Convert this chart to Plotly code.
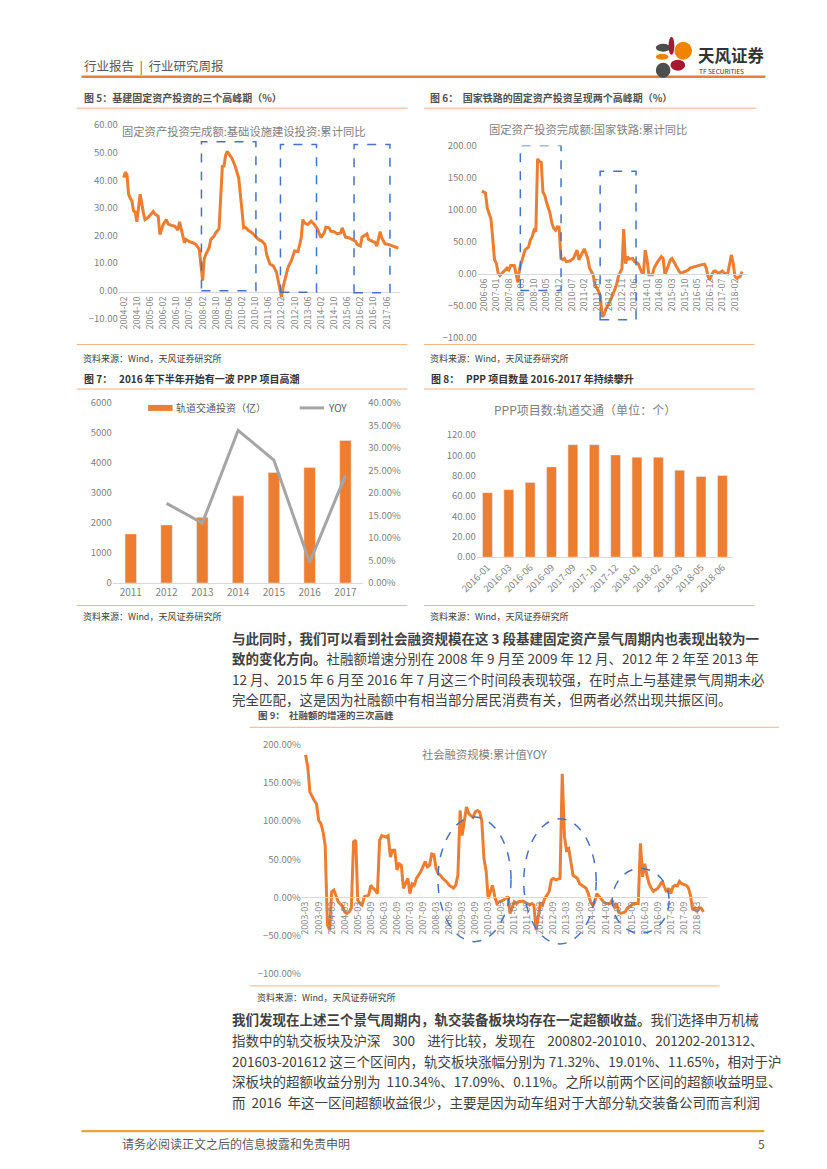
import plotly.graph_objects as go

W, H = 827, 1169
YS = 0.99315  # vertical scale observed in the captured page
FONT = "Noto Sans CJK SC"
ORANGE = "#ED7D31"
GRAYLINE = "#A5A5A5"
BLUE = "#4472C4"
TICK = "#7f7f7f"
THIN = "#F4B183"

def fx(px):
    return px / W

def fy(py):
    return 1 - (py / YS) / H

# ---------------- data ----------------
dates5 = ["2004-02", "2004-03", "2004-04", "2004-05", "2004-06", "2004-07", "2004-08", "2004-09", "2004-10", "2004-11", "2004-12",
          "2005-02", "2005-03", "2005-05", "2005-06", "2005-08", "2005-09", "2005-11", "2005-12",
          "2006-02", "2006-04", "2006-05", "2006-07", "2006-09", "2006-11", "2006-12",
          "2007-02", "2007-03", "2007-04", "2007-06", "2007-08", "2007-10", "2007-12",
          "2008-02", "2008-03", "2008-04", "2008-06", "2008-07", "2008-09", "2008-10", "2008-12",
          "2009-02", "2009-03", "2009-04", "2009-05", "2009-06", "2009-08", "2009-10", "2009-12",
          "2010-02", "2010-03", "2010-04", "2010-06", "2010-08", "2010-10", "2010-12",
          "2011-02", "2011-04", "2011-05", "2011-07", "2011-09", "2011-11", "2011-12",
          "2012-02", "2012-03", "2012-04", "2012-06", "2012-08", "2012-10", "2012-12",
          "2013-02", "2013-03", "2013-04", "2013-06", "2013-08", "2013-10", "2013-12",
          "2014-02", "2014-04", "2014-05", "2014-07", "2014-08", "2014-10", "2014-12",
          "2015-02", "2015-03", "2015-05", "2015-07", "2015-09", "2015-11", "2015-12",
          "2016-02", "2016-03", "2016-05", "2016-06", "2016-07", "2016-09", "2016-11", "2016-12",
          "2017-02", "2017-03", "2017-05", "2017-07", "2017-09", "2017-11", "2018-01"]
vals5 = [41, 43, 42, 35, 33.5, 32.5, 29, 28.5, 25, 30, 35,
         28, 25.8, 26.6, 27.3, 28.7, 27.8, 27, 20.4,
         24, 25.8, 24.2, 23.7, 23.4, 22, 25,
         19.8, 17.4, 18.6, 17.8, 17.4, 16.8, 15,
         3.7, 11.5, 13.2, 15.6, 18.6, 19.8, 21, 22.5,
         45.4, 44.8, 49, 50.5, 49.6, 47.8, 44.8, 40.7,
         28.7, 22.8, 23, 21.8, 21, 19.8, 18.6,
         18, 16.8, 13.2, 9.7, 9, 6.7, 3.7,
         -2.3, 1.3, 3.7, 8.5, 10.9, 14.4, 14.2,
         19.2, 25.8, 24.6, 24, 25.2, 24, 22.2,
         19.2, 21, 23, 22.8, 21.6, 21.4, 20.6,
         21, 22.8, 19.4, 19.2, 18.6, 18, 16.8,
         16.2, 19.4, 20.1, 20.6, 18.6, 18, 17.4, 16.2,
         21.4, 19.2, 17, 16.8, 16.2, 15.9, 15.4]

dates6 = ["2006-05", "2006-06", "2006-07", "2006-08", "2006-09", "2006-10", "2006-11", "2006-12",
          "2007-01", "2007-02", "2007-03", "2007-05", "2007-07", "2007-08", "2007-09", "2007-11", "2007-12",
          "2008-01", "2008-02", "2008-03", "2008-04", "2008-05", "2008-07", "2008-08", "2008-09", "2008-10", "2008-11", "2008-12",
          "2009-01", "2009-02", "2009-03", "2009-04", "2009-05", "2009-07", "2009-08", "2009-09", "2009-10", "2009-11", "2009-12",
          "2010-01", "2010-02", "2010-03", "2010-04", "2010-06", "2010-08", "2010-09", "2010-10", "2010-11",
          "2011-01", "2011-02", "2011-04", "2011-05", "2011-07", "2011-08", "2011-10", "2011-11", "2011-12",
          "2012-01", "2012-02", "2012-04", "2012-06", "2012-08", "2012-09", "2012-10", "2012-11", "2012-12",
          "2013-01", "2013-02", "2013-03", "2013-05", "2013-06", "2013-08", "2013-09", "2013-10", "2013-11", "2013-12",
          "2014-01", "2014-02", "2014-04", "2014-05", "2014-07", "2014-09", "2014-10", "2014-11", "2014-12",
          "2015-02", "2015-03", "2015-05", "2015-07", "2015-08", "2015-10", "2015-12",
          "2016-01", "2016-03", "2016-05", "2016-07", "2016-09", "2016-10", "2016-11", "2016-12",
          "2017-01", "2017-02", "2017-03", "2017-05", "2017-07", "2017-08", "2017-10", "2017-12",
          "2018-01", "2018-02", "2018-03", "2018-05", "2018-06"]
vals6 = [129, 128, 126, 102, 94, 86, 55, 22,
         16.5, 1, -2.6, 3.6, 8.8, 6.2, 13, 13, -1.5,
         -13, 8.8, 19, 29.5, 37, 42, 53, 58, 68, 66, 179.5,
         175, 174, 128, 122.6, 112, 94, 79, 71, 68, 73.4, 73,
         24, 22, 24, 19, 20, 24, 32, 37, 22,
         32, 39, 24, 8.8, -1.5, -17, -27, -35, -67,
         -64, -55, -45, -32, -17, -4, 3, 8, 70,
         16, 27, 23, 24, 19, 16.5, 8.8, 2.6, 2, 37,
         22, -1.5, -1.5, 9, 19, 27, 24, -1.5, 6,
         22, 24, 14, 3.6, 1, 3.6, 6,
         9, 11, 12, 14, 15, 9, -4, -9,
         -1.5, 3.6, 4.6, 1, 4.6, 1, 0, 29.5,
         16.5, -4, -6.7, -4, 3.6]

years7 = ["2011", "2012", "2013", "2014", "2015", "2016", "2017"]
invest7 = [1635, 1934, 2188, 2906, 3680, 3845, 4751]
yoy7 = [None, 0.177, 0.133, 0.339, 0.273, 0.046, 0.239]

months8 = ["2016-01", "2016-03", "2016-06", "2016-09", "2017-09", "2017-10", "2017-12",
           "2018-01", "2018-02", "2018-03", "2018-05", "2018-06"]
ppp8 = [63.2, 66.2, 73.3, 88.5, 110.3, 110.3, 100.2, 97.9, 97.9, 85.3, 79.1, 80.1]

dates9 = ["2003-03", "2003-04", "2003-05", "2003-06", "2003-07", "2003-08", "2003-09", "2003-10", "2003-11", "2003-12",
          "2004-01", "2004-02", "2004-03", "2004-04", "2004-05", "2004-06", "2004-08", "2004-09", "2004-10", "2004-11", "2004-12",
          "2005-01", "2005-02", "2005-03", "2005-04", "2005-05", "2005-06", "2005-08", "2005-09", "2005-10", "2005-11", "2005-12",
          "2006-01", "2006-02", "2006-04", "2006-05", "2006-06", "2006-07", "2006-08", "2006-09", "2006-10", "2006-11", "2006-12",
          "2007-02", "2007-03", "2007-04", "2007-05", "2007-06", "2007-08", "2007-09", "2007-10", "2007-11", "2007-12",
          "2008-01", "2008-02", "2008-03", "2008-04", "2008-05", "2008-06", "2008-08", "2008-09", "2008-11", "2008-12",
          "2009-01", "2009-02", "2009-03", "2009-04", "2009-05", "2009-06", "2009-08", "2009-09", "2009-10", "2009-11", "2009-12",
          "2010-01", "2010-02", "2010-03", "2010-04", "2010-05", "2010-06", "2010-07", "2010-08", "2010-10", "2010-11", "2010-12",
          "2011-01", "2011-03", "2011-04", "2011-05", "2011-07", "2011-08", "2011-10", "2011-11", "2011-12",
          "2012-01", "2012-02", "2012-03", "2012-04", "2012-05", "2012-06", "2012-07", "2012-08", "2012-09", "2012-10", "2012-12",
          "2013-01", "2013-02", "2013-03", "2013-04", "2013-05", "2013-06", "2013-08", "2013-09", "2013-11", "2013-12",
          "2014-01", "2014-02", "2014-03", "2014-04", "2014-05", "2014-06", "2014-08", "2014-09", "2014-11", "2014-12",
          "2015-01", "2015-02", "2015-03", "2015-04", "2015-06", "2015-07", "2015-09", "2015-10", "2015-12",
          "2016-01", "2016-02", "2016-03", "2016-04", "2016-05", "2016-06", "2016-07", "2016-09", "2016-10", "2016-11", "2016-12",
          "2017-01", "2017-02", "2017-03", "2017-04", "2017-05", "2017-06", "2017-07", "2017-08", "2017-09", "2017-10", "2017-11", "2017-12",
          "2018-01", "2018-02", "2018-03", "2018-04", "2018-05", "2018-06"]
vals9 = [187, 171, 138, 132, 127, 123, 101, 97, 86, 68,
         -36, -43, 7.4, 9.6, 3, -5.7, -12, -19, -21, -19, -14,
         73, 75, -3.5, -8, -10, 1, 3, 16, 12, 9.6, 5,
         75, 81, 79, 81, 53, 62, 62, 36, 44, 42, 12,
         25, 5, 18, 16, 25, 34, 40, 47, 40, 42,
         57, 56, 38, 31, 29, 25, 20, 16, 12, 16,
         29, 114, 81, 99, 118.5, 110, 105, 112, 114, 112, 101,
         51, 34, -1.3, 7.4, 16, 1, -8, -5.7, -3.5, -1.3, 1,
         -21, -5.7, -8, -5.7, -4.8, -6.5, -10, -8, -10,
         -43, -23, -8, -10, -1.3, 3, 7.4, 23, 25, 23, 25,
         162, 80, 62, 64, 47, 29, 25, 18, 14, 12,
         5, -5.7, -10, -5.7, 5, 1, -5.7, -8, -8, -3.5,
         -14, -8, -19, -21, -19, -14, -10, -8, -8,
         71, 27, 44, 29, 18, 12, 8, 12, 16, 21, 14,
         7.4, 12, 5, 14, 16, 15, 21, 18, 17, 16, 13, 3,
         -16.5, -14, -19, -13.5, -14, -19]

assert len(dates5) == len(vals5)
assert len(dates6) == len(vals6)
assert len(dates9) == len(vals9)

# ---------------- figure ----------------
fig = go.Figure()

fig.add_trace(go.Scatter(x=dates5, y=vals5, xaxis="x", yaxis="y", mode="lines",
                         line=dict(color=ORANGE, width=3), showlegend=False))
fig.add_trace(go.Scatter(x=dates6, y=vals6, xaxis="x2", yaxis="y2", mode="lines",
                         line=dict(color=ORANGE, width=3), showlegend=False))
fig.add_trace(go.Bar(x=years7, y=invest7, xaxis="x3", yaxis="y3", marker_color=ORANGE,
                     width=0.32, name="轨道交通投资（亿）", showlegend=False))
fig.add_trace(go.Scatter(x=years7, y=yoy7, xaxis="x3", yaxis="y4", mode="lines",
                         line=dict(color=GRAYLINE, width=3), name="YOY", showlegend=False))
fig.add_trace(go.Bar(x=months8, y=ppp8, xaxis="x5", yaxis="y5", marker_color=ORANGE,
                     width=0.46, showlegend=False))
fig.add_trace(go.Scatter(x=dates9, y=vals9, xaxis="x6", yaxis="y6", mode="lines",
                         line=dict(color=ORANGE, width=3), showlegend=False))

tickfont = dict(family=FONT, size=9, color=TICK)


def date_x(domain, rng, pos_py, tick0, dtick):
    return dict(domain=[fx(domain[0]), fx(domain[1])], type="date", range=rng,
                anchor="free", position=fy(pos_py), tick0=tick0, dtick=dtick,
                tickformat="%Y-%m", tickangle=-90, showline=True, linecolor="#d9d9d9",
                linewidth=1, showgrid=False, zeroline=False, ticks="", tickfont=tickfont)


def val_y(anchor, top, bottom, rng, dtick, fmt=".2f", suffix=""):
    return dict(domain=[fy(bottom), fy(top)], range=rng, dtick=dtick, tickformat=fmt,
                ticksuffix=suffix, anchor=anchor, showgrid=False, zeroline=False,
                showline=False, ticks="", tickfont=dict(family=FONT, size=9.5, color=TICK))


layout = dict(
    width=W, height=H, autosize=False,
    margin=dict(l=0, r=0, t=0, b=0, pad=0),
    paper_bgcolor="white", plot_bgcolor="white",
    font=dict(family=FONT, color="#404040"),
    showlegend=False,
    xaxis=date_x((103, 390), ["2003-11-01", "2018-01-25"], 285.3, "2004-02-01", "M8"),
    yaxis=val_y("x", 117.7, 312, [-10, 60], 10),
    xaxis2=date_x((470, 745), ["2006-02-20", "2018-08-20"], 267.3, "2006-06-01", "M7"),
    yaxis2=val_y("x2", 138.3, 331.7, [-100, 200], 50),
    xaxis3=dict(domain=[fx(97), fx(353)], anchor="y3", type="category", range=[-0.5, 6.5],
                showline=True, linecolor="#d9d9d9", ticks="", showgrid=False,
                tickfont=dict(family=FONT, size=10, color=TICK)),
    yaxis3=dict(domain=[fy(578), fy(397)], anchor="x3", range=[0, 6000], dtick=1000,
                showgrid=False, zeroline=False, ticks="",
                tickfont=dict(family=FONT, size=9.5, color=TICK)),
    yaxis4=dict(domain=[fy(578), fy(397)], overlaying="y3", side="right", anchor="free",
                position=fx(357), range=[0, 0.40], dtick=0.05, tickformat=".2%",
                showgrid=False, zeroline=False, ticks="",
                tickfont=dict(family=FONT, size=9.5, color=TICK)),
    xaxis5=dict(domain=[fx(469), fx(731)], anchor="y5", type="category", range=[-0.5, 11.5],
                showline=True, linecolor="#d9d9d9", ticks="", showgrid=False, tickangle=-45,
                tickfont=dict(family=FONT, size=9.5, color=TICK)),
    yaxis5=val_y("x5", 429, 552, [0, 120], 20),
    xaxis6=date_x((290, 705), ["2003-01-06", "2018-07-30"], 893.7, "2003-03-01", "M6"),
    yaxis6=val_y("x6", 740.7, 970.7, [-100, 200], 50, ".2f", "%"),
    bargap=0.5,
)
fig.update_layout(**layout)

shapes = []
ann = []


def hline(py, x0, x1, color=THIN, width=1):
    shapes.append(dict(type="line", xref="paper", yref="paper", x0=fx(x0), x1=fx(x1),
                       y0=fy(py), y1=fy(py), line=dict(color=color, width=width)))


def text(px, py, s, size=10, color="#404040", anchor="left", yanchor="middle"):
    ann.append(dict(xref="paper", yref="paper", x=fx(px), y=fy(py), text=s, showarrow=False,
                    xanchor=anchor, yanchor=yanchor, align=anchor, borderpad=0,
                    font=dict(family=FONT, size=size, color=color)))


# header
text(66, 58, "行业报告  |  行业研究周报", 12.5, "#595959")
hline(69, 65, 764, ORANGE, 2.5)
petals = [
    (665, 29, 671, 47, "#A6192E"),
    (652, 36, 667, 44, "#4D4D4D"),
    (671, 34, 689, 52, "#F08300"),
    (652, 46, 665, 52, "#F08300"),
    (667, 52, 682, 63, "#A6192E"),
    (652, 55, 667, 70, "#4D4D4D"),
]
for x0, y0, x1, y1, c in petals:
    shapes.append(dict(type="circle", xref="paper", yref="paper", x0=fx(x0), x1=fx(x1),
                       y0=fy(y1), y1=fy(y0), fillcolor=c, line=dict(width=0)))
text(694, 47, "<b>天风证券</b>", 16.5, "#333333")
text(695, 63, "TF SECURITIES", 6.5, "#333333")

# figure titles
text(66, 90, "<b>图 5：基建固定资产投资的三个高峰期（%）</b>", 10, "#505050")
hline(100.7, 60, 398)
text(420, 90, "<b>图 6：  国家铁路的固定资产投资呈现两个高峰期（%）</b>", 10, "#505050")
hline(100.7, 415, 755)
text(105, 124, "固定资产投资完成额:基础设施建设投资:累计同比", 11.3, TICK)
text(583, 122, "固定资产投资完成额:国家铁路:累计同比", 11.3, TICK, "center")
hline(338.3, 60, 398)
hline(338.3, 415, 753)
text(65, 352, "资料来源：Wind，天风证券研究所", 9, "#404040")
text(420, 352, "资料来源：Wind，天风证券研究所", 9, "#404040")

text(66, 372, "<b>图 7：   2016 年下半年开始有一波 PPP 项目高潮</b>", 10, "#333333")
text(421, 372, "<b>图 8：   PPP 项目数量 2016-2017 年持续攀升</b>", 10, "#333333")
hline(383, 60, 398)
hline(383, 415, 753)
shapes.append(dict(type="rect", xref="paper", yref="paper", x0=fx(133), x1=fx(158),
                   y0=fy(405), y1=fy(399), fillcolor=ORANGE, line=dict(width=0)))
text(161, 402, "轨道交通投资（亿）", 10, "#595959")
hline(402, 288, 313, GRAYLINE, 3)
text(316, 402, "YOY", 10, "#595959")
text(580, 404, "PPP项目数:轨道交通（单位：个）", 12, TICK, "center")
hline(600.7, 60, 398)
hline(600.7, 415, 753)
text(65, 612, "资料来源：Wind，天风证券研究所", 9, "#404040")
text(420, 612, "资料来源：Wind，天风证券研究所", 9, "#404040")

P1 = [
    "<b>与此同时，我们可以看到社会融资规模在这 3 段基建固定资产景气周期内也表现出较为一</b>",
    "<b>致的变化方向。</b>社融额增速分别在 2008 年 9 月至 2009 年 12 月、2012 年 2 年至 2013 年",
    "12 月、2015 年 6 月至 2016 年 7 月这三个时间段表现较强，在时点上与基建景气周期未必",
    "完全匹配，这是因为社融额中有相当部分居民消费有关，但两者必然出现共振区间。",
]
for i, s in enumerate(P1):
    text(218, 633 + i * 20.5, s, 13.5, "#404040")

text(244, 711, "<b>图 9：  社融额的增速的三次高峰</b>", 9.5, "#505050")
hline(723, 237, 778)
text(477, 750, "社会融资规模:累计值YOY", 11.3, TICK, "center")
hline(983, 237, 717)
text(243, 995, "资料来源：Wind，天风证券研究所", 9, "#404040")

P2 = [
    "<b>我们发现在上述三个景气周期内，轨交装备板块均存在一定超额收益。</b>我们选择申万机械",
    "指数中的轨交板块及沪深    300    进行比较，发现在    200802-201010、201202-201312、",
    "201603-201612 这三个区间内，轨交板块涨幅分别为 71.32%、19.01%、11.65%，相对于沪",
    "深板块的超额收益分别为  110.34%、17.09%、0.11%。之所以前两个区间的超额收益明显、",
    "而  2016  年这一区间超额收益很少，主要是因为动车组对于大部分轨交装备公司而言利润",
]
for i, s in enumerate(P2):
    text(218, 1016 + i * 21, s, 13.5, "#404040")

hline(1129, 65, 763, "#E8A33D", 2.2)
text(105, 1141, "请务必阅读正文之后的信息披露和免责申明", 12, "#595959")
text(765, 1141, "5", 12, "#595959", "right")

dash = dict(color=BLUE, width=1.5, dash="dash")
for x0, x1, y0, y1 in [("2008-01-10", "2010-10-15", 0, 54),
                       ("2012-01-12", "2013-11-10", -0.5, 53),
                       ("2015-10-06", "2017-08-01", -0.7, 53)]:
    shapes.append(dict(type="rect", xref="x", yref="y", x0=x0, x1=x1, y0=y0, y1=y1, line=dash))
for x0, x1, y0, y1 in [("2008-02-12", "2010-01-03", -26, 200),
                       ("2011-10-28", "2013-06-28", -71.4, 159.8)]:
    shapes.append(dict(type="rect", xref="x2", yref="y2", x0=x0, x1=x1, y0=y0, y1=y1, line=dash))
for x0, x1, y0, y1 in [("2008-03-28", "2011-01-15", -58, 105.4),
                       ("2011-07-12", "2014-04-21", -61, 103),
                       ("2014-12-01", "2017-02-06", -47, 38)]:
    shapes.append(dict(type="circle", xref="x6", yref="y6", x0=x0, x1=x1, y0=y0, y1=y1, line=dash))

fig.update_layout(shapes=shapes, annotations=ann)

fig.write_html("out.html", config={"displayModeBar": False},
               post_script="document.body.style.margin='0';document.body.style.overflow='hidden';")
